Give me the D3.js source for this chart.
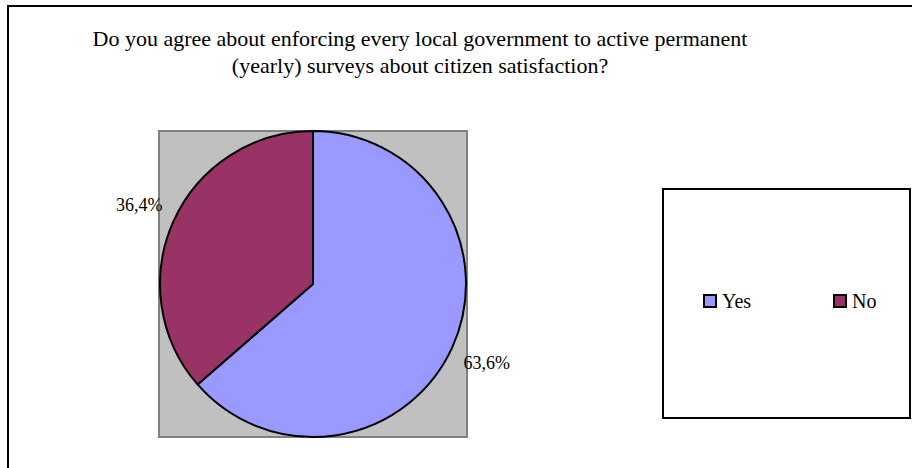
<!DOCTYPE html>
<html><head><meta charset="utf-8">
<script src="https://cdn.jsdelivr.net/npm/d3@7"></script>
<style>body{margin:0;background:#fff}svg{display:block}
text{font-family:"Liberation Serif","Times New Roman",Tinos,"DejaVu Serif",serif}</style>
</head><body>
<svg id="c" width="912" height="468"></svg>
<script>
const categories = ["Yes", "No"];
const values = [63.6, 36.4];
const labels = ["63,6%", "36,4%"];
const colors = ["#9999FF", "#993366"];
const titleLines = ["Do you agree about enforcing every local government to active permanent", "(yearly) surveys about citizen satisfaction?"];

const svg = d3.select("#c");

// outer border
svg.append("rect").attr("x", 8).attr("y", 6).attr("width", 1000).attr("height", 1000)
  .attr("fill", "none").attr("stroke", "#000").attr("stroke-width", 2);

// title
svg.append("g").selectAll("text").data(titleLines).join("text")
  .attr("x", 420).attr("y", (d, i) => 46 + i * 27)
  .attr("text-anchor", "middle").attr("font-size", 22)
  .attr("fill", "#000").text(d => d);

// plot area
const cx = 313, cy = 284, r = 153;
svg.append("rect").attr("x", 159).attr("y", 131).attr("width", 308).attr("height", 306)
  .attr("fill", "#C0C0C0").attr("stroke", "#808080").attr("stroke-width", 2);

const pie = d3.pie().sort(null).value(d => d)(values);
const arc = d3.arc().innerRadius(0).outerRadius(r);
const g = svg.append("g").attr("transform", `translate(${cx},${cy})`);
g.selectAll("path").data(pie).join("path")
  .attr("d", arc).attr("fill", (d, i) => colors[i])
  .attr("stroke", "#000").attr("stroke-width", 2).attr("stroke-linejoin", "round");

// data labels
const labelArc = d3.arc().innerRadius(r + 38).outerRadius(r + 38);
g.selectAll("text").data(pie).join("text")
  .attr("transform", d => {
    const c = labelArc.centroid(d);
    return `translate(${c[0]},${c[1]})`;
  })
  .attr("text-anchor", "middle").attr("dy", "0.35em")
  .attr("font-size", 18).attr("fill", "#000")
  .text((d, i) => labels[i]);

// legend
svg.append("rect").attr("x", 663).attr("y", 189).attr("width", 247).attr("height", 229)
  .attr("fill", "#fff").attr("stroke", "#000").attr("stroke-width", 2);
const lx = d3.scalePoint().domain(categories).range([704, 834]);
const lg = svg.append("g").selectAll("g").data(categories).join("g")
  .attr("transform", d => `translate(${lx(d)},295)`);
lg.append("rect").attr("width", 12).attr("height", 12)
  .attr("fill", (d, i) => colors[i]).attr("stroke", "#000").attr("stroke-width", 2);
lg.append("text").attr("x", 18).attr("y", 13).attr("font-size", 20)
  .attr("fill", "#000").text(d => d);
</script>
</body></html>
